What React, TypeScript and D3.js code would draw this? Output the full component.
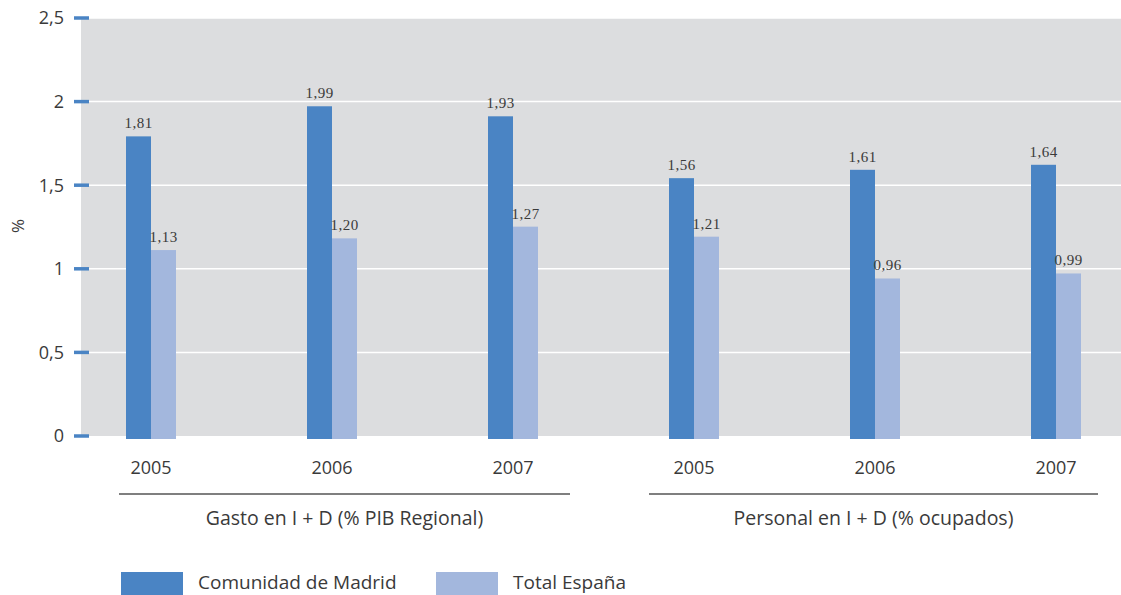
import React from "react";
import * as d3 from "d3";

const years = ["2005", "2006", "2007"];
const groups = ["Gasto en I + D (% PIB Regional)", "Personal en I + D (% ocupados)"];
const seriesNames = ["Comunidad de Madrid", "Total España"];
const madrid = [1.81, 1.99, 1.93, 1.56, 1.61, 1.64];
const espana = [1.13, 1.2, 1.27, 1.21, 0.96, 0.99];
const yTicks = [0, 0.5, 1, 1.5, 2, 2.5];

const W = 1121;
const H = 595;
const plotLeft = 81;
const plotRight = 1121;
const plotTop = 18;
const plotBottom = 436;
const barW = 25;
const colors = ["#4a84c4", "#a3b7dd"];
const sans = "'Open Sans', sans-serif";
const serif = "'Liberation Serif', 'DejaVu Serif', serif";
const textColor = "#3a3a3a";

export default function App() {
  const y = d3.scaleLinear().domain([0, 2.5]).range([plotBottom, plotTop]);
  const slots = d3.range(6).map(String);
  const x = d3.scalePoint<string>().domain(slots).range([151, 1056]);
  const fmt = (v: number) => v.toFixed(2).replace(".", ",");
  const tickFmt = (v: number) => String(v).replace(".", ",");
  const barShift = 3;

  const groupSpans = [
    [x("0")! - 32, x("2")! + 57],
    [x("3")! - 45, x("5")! + 42],
  ];

  return (
    <svg
      width={W}
      height={H}
      style={{ position: "absolute", left: 0, top: 0 }}
      xmlns="http://www.w3.org/2000/svg"
    >
      <rect x={0} y={0} width={W} height={H} fill="#ffffff" />
      <rect
        x={plotLeft}
        y={plotTop}
        width={plotRight - plotLeft}
        height={plotBottom - plotTop}
        fill="#dcdddf"
      />
      {yTicks.map((t) => (
        <g key={t}>
          {t > 0 && (
            <line
              x1={plotLeft}
              x2={plotRight}
              y1={y(t)}
              y2={y(t)}
              stroke="#ffffff"
              strokeWidth={1.5}
            />
          )}
          <line x1={74} x2={89} y1={y(t)} y2={y(t)} stroke="#4a84c4" strokeWidth={3.5} />
          <text
            x={64}
            y={y(t)}
            dy="0.35em"
            textAnchor="end"
            fontFamily={sans}
            fontSize={18}
            fill={textColor}
          >
            {tickFmt(t)}
          </text>
        </g>
      ))}
      <text
        transform={`translate(24,${226}) rotate(-90)`}
        textAnchor="middle"
        fontFamily={sans}
        fontSize={17}
        fill={textColor}
      >
        %
      </text>

      {slots.map((s, i) => {
        const cx = x(s)!;
        const vals = [madrid[i], espana[i]];
        return (
          <g key={s}>
            {vals.map((v, j) => {
              const bx = j === 0 ? cx - barW : cx;
              const top = y(v) + barShift;
              return (
                <g key={j}>
                  <rect
                    x={bx}
                    y={top}
                    width={barW}
                    height={plotBottom + barShift - top}
                    fill={colors[j]}
                  />
                  <text
                    x={bx + barW / 2}
                    y={top - 8}
                    textAnchor="middle"
                    fontFamily={serif}
                    fontSize={15}
                    letterSpacing={0.5}
                    fill={textColor}
                  >
                    {fmt(v)}
                  </text>
                </g>
              );
            })}
            <text
              x={cx}
              y={474}
              textAnchor="middle"
              fontFamily={sans}
              fontSize={18}
              fill={textColor}
            >
              {years[i % 3]}
            </text>
          </g>
        );
      })}

      {groups.map((g, i) => {
        const [a, b] = groupSpans[i];
        return (
          <g key={g}>
            <line x1={a} x2={b} y1={494} y2={494} stroke="#555555" strokeWidth={1.5} />
            <text
              x={(a + b) / 2}
              y={525}
              textAnchor="middle"
              fontFamily={sans}
              fontSize={19.5}
              fill={textColor}
            >
              {g}
            </text>
          </g>
        );
      })}

      {seriesNames.map((n, i) => {
        const lx = i === 0 ? 121 : 436;
        return (
          <g key={n}>
            <rect x={lx} y={572} width={62} height={23} fill={colors[i]} />
            <text
              x={lx + 77}
              y={589}
              fontFamily={sans}
              fontSize={19}
              fill={textColor}
            >
              {n}
            </text>
          </g>
        );
      })}
    </svg>
  );
}
